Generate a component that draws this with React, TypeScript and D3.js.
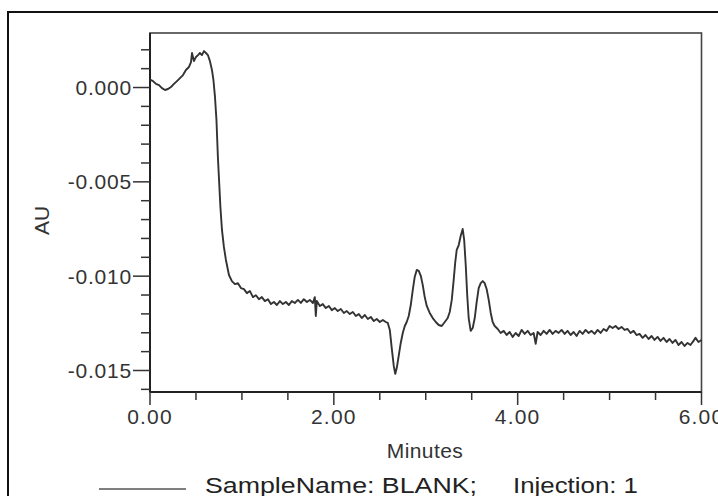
import * as d3 from "d3";

// retention time (min) and absorbance (AU)
const times = [
  0.0, 0.033, 0.065, 0.098, 0.13, 0.163, 0.196, 0.228, 0.261, 0.293, 0.326, 0.359, 0.391, 0.424,
  0.446, 0.457, 0.478, 0.5, 0.522, 0.543, 0.565, 0.587, 0.609, 0.63, 0.652, 0.674, 0.69, 0.707,
  0.723, 0.739, 0.755, 0.766, 0.783, 0.804, 0.826, 0.859, 0.891, 0.924, 0.957, 0.989, 1.022, 1.054,
  1.087, 1.12, 1.152, 1.185, 1.217, 1.25, 1.283, 1.315, 1.348, 1.38, 1.413, 1.446, 1.478, 1.511,
  1.543, 1.576, 1.609, 1.641, 1.674, 1.707, 1.739, 1.772, 1.793, 1.804, 1.815, 1.848, 1.88, 1.913,
  1.946, 1.978, 2.011, 2.043, 2.076, 2.109, 2.141, 2.174, 2.207, 2.239, 2.272, 2.304, 2.337, 2.37,
  2.402, 2.435, 2.467, 2.5, 2.533, 2.565, 2.587, 2.609, 2.63, 2.652, 2.668, 2.685, 2.707, 2.728,
  2.75, 2.772, 2.793, 2.815, 2.837, 2.859, 2.88, 2.902, 2.924, 2.946, 2.967, 2.989, 3.011, 3.043,
  3.076, 3.109, 3.141, 3.174, 3.207, 3.239, 3.261, 3.283, 3.304, 3.321, 3.337, 3.359, 3.38, 3.402,
  3.418, 3.435, 3.451, 3.467, 3.489, 3.511, 3.533, 3.554, 3.576, 3.598, 3.62, 3.641, 3.663, 3.685,
  3.707, 3.728, 3.75, 3.783, 3.815, 3.848, 3.88, 3.913, 3.946, 3.978, 4.011, 4.043, 4.076, 4.109,
  4.141, 4.174, 4.196, 4.217, 4.25, 4.283, 4.315, 4.348, 4.38, 4.413, 4.446, 4.478, 4.511, 4.543,
  4.576, 4.609, 4.641, 4.674, 4.707, 4.739, 4.772, 4.804, 4.837, 4.87, 4.902, 4.935, 4.967, 5.0,
  5.033, 5.065, 5.098, 5.13, 5.163, 5.196, 5.228, 5.261, 5.293, 5.326, 5.359, 5.391, 5.424, 5.457,
  5.489, 5.522, 5.554, 5.587, 5.62, 5.652, 5.685, 5.717, 5.75, 5.783, 5.815, 5.848, 5.88, 5.913,
  5.935, 5.967, 6.0,
];

const au = [
  0.00042, 0.00034, 0.00019, 0.00013, -0.00003, -0.00013, -0.00008, 0.00003, 0.00019, 0.00034,
  0.0005, 0.00066, 0.00093, 0.00109, 0.00135, 0.00183, 0.0014, 0.00162, 0.00172, 0.00183, 0.00172,
  0.00193, 0.00183, 0.00172, 0.0014, 0.00093, 0.0004, -0.0005, -0.00172, -0.00374, -0.00527,
  -0.00633, -0.00755, -0.00845, -0.00914, -0.00994, -0.01026, -0.01042, -0.01037, -0.01063,
  -0.01069, -0.0109, -0.01079, -0.01111, -0.01101, -0.01122, -0.01111, -0.01132, -0.01122,
  -0.01148, -0.01137, -0.01153, -0.01132, -0.01148, -0.01137, -0.01153, -0.01132, -0.01142,
  -0.01126, -0.01142, -0.01122, -0.01137, -0.01126, -0.01142, -0.01111, -0.01211, -0.01132,
  -0.01158, -0.01148, -0.01169, -0.01158, -0.0118, -0.01169, -0.01185, -0.01174, -0.01195,
  -0.01185, -0.01201, -0.0119, -0.01211, -0.01201, -0.01222, -0.01206, -0.01227, -0.01216,
  -0.01238, -0.01227, -0.01243, -0.01232, -0.01243, -0.01248, -0.01285, -0.01381, -0.01476,
  -0.01518, -0.01486, -0.01418, -0.01354, -0.01301, -0.01264, -0.01243, -0.01211, -0.01153,
  -0.01073, -0.01004, -0.00967, -0.00972, -0.00998, -0.01046, -0.01111, -0.01158, -0.01195,
  -0.01222, -0.01243, -0.01259, -0.01264, -0.01243, -0.01222, -0.0119, -0.01126, -0.0102,
  -0.00925, -0.00861, -0.00835, -0.00787, -0.0075, -0.00808, -0.00941, -0.011, -0.01222, -0.0129,
  -0.01275, -0.01222, -0.01137, -0.01063, -0.01037, -0.01026, -0.01037, -0.01069, -0.01126,
  -0.01195, -0.01243, -0.01264, -0.0128, -0.01301, -0.0129, -0.01312, -0.01296, -0.01322,
  -0.01301, -0.01317, -0.01285, -0.01306, -0.0129, -0.01312, -0.01301, -0.01359, -0.01296,
  -0.01312, -0.0129, -0.01306, -0.01285, -0.01306, -0.0129, -0.01301, -0.01285, -0.01306,
  -0.0129, -0.01312, -0.01296, -0.01317, -0.0129, -0.01306, -0.01285, -0.01301, -0.0129,
  -0.01306, -0.01285, -0.01301, -0.0128, -0.0129, -0.01264, -0.01275, -0.01264, -0.0128,
  -0.01269, -0.01285, -0.0128, -0.01301, -0.0129, -0.01312, -0.01306, -0.01327, -0.01312,
  -0.01333, -0.01317, -0.01338, -0.01322, -0.01343, -0.01327, -0.01349, -0.01333, -0.01354,
  -0.01338, -0.01365, -0.01349, -0.0137, -0.01354, -0.01365, -0.01343, -0.01327, -0.01349,
  -0.01338,
];

const yMajor = [0, -0.005, -0.01, -0.015];
const yMinor = [0.002, 0.001, -0.001, -0.002, -0.003, -0.004, -0.006, -0.007, -0.008, -0.009,
  -0.011, -0.012, -0.013, -0.014, -0.016];
const xMajor = [0, 2, 4, 6];
const xMinor = [0.5, 1, 1.5, 2.5, 3, 3.5, 4.5, 5, 5.5];

const font = "'Liberation Sans', Arial, sans-serif";

export default function App() {
  const left = 150;
  const right = 701.5;
  const top = 33;
  const bottom = 392;

  const x = d3.scaleLinear().domain([0, 6]).range([left, right]);
  const y = d3.scaleLinear().domain([0.00289, -0.01614]).range([top, bottom]);

  const pts = times.map((t, i) => [t, au[i]] as [number, number]);
  const line = d3
    .line<[number, number]>()
    .x((d) => x(d[0]))
    .y((d) => y(d[1]));

  return (
    <svg
      width={718}
      height={496}
      style={{ position: "absolute", left: 0, top: 0, background: "#fff" }}
      fontFamily={font}
    >
      <rect x={8} y={12} width={720} height={500} fill="none" stroke="#111" strokeWidth={2} />

      {/* plot frame */}
      <rect
        x={left}
        y={top}
        width={right - left}
        height={bottom - top}
        fill="none"
        stroke="#444"
        strokeWidth={1.6}
      />
      <line x1={left} x2={left} y1={top} y2={bottom} stroke="#222" strokeWidth={2} />
      <line x1={left} x2={right} y1={bottom} y2={bottom} stroke="#222" strokeWidth={2} />

      {/* y ticks */}
      {yMinor.map((v) => (
        <line key={"ym" + v} x1={141} x2={left} y1={y(v)} y2={y(v)} stroke="#333" strokeWidth={1.5} />
      ))}
      {yMajor.map((v) => (
        <g key={"yM" + v}>
          <line x1={133} x2={left} y1={y(v)} y2={y(v)} stroke="#333" strokeWidth={1.5} />
          <text
            x={132}
            y={y(v)}
            dy="0.36em"
            textAnchor="end"
            fontSize={21}
            letterSpacing={0.8}
            fill="#333"
          >
            {d3.format(".3f")(v).replace("−", "-")}
          </text>
        </g>
      ))}

      {/* x ticks */}
      {xMinor.map((v) => (
        <line key={"xm" + v} x1={x(v)} x2={x(v)} y1={bottom} y2={400} stroke="#333" strokeWidth={1.5} />
      ))}
      {xMajor.map((v) => (
        <g key={"xM" + v}>
          <line x1={x(v)} x2={x(v)} y1={bottom} y2={405} stroke="#333" strokeWidth={1.5} />
          <text x={x(v)} y={424} textAnchor="middle" fontSize={21} letterSpacing={1.2} fill="#333">
            {d3.format(".2f")(v)}
          </text>
        </g>
      ))}

      <text x={425} y={458} textAnchor="middle" fontSize={21} letterSpacing={0.4} fill="#333">
        Minutes
      </text>
      <text
        transform={`translate(49,${(top + bottom) / 2 + 8}) rotate(-90)`}
        textAnchor="middle"
        fontSize={21}
        fill="#333"
      >
        AU
      </text>

      <path d={line(pts) ?? ""} fill="none" stroke="#333" strokeWidth={1.9} strokeLinejoin="round" />

      {/* legend */}
      <line x1={99} x2={186} y1={489} y2={489} stroke="#555" strokeWidth={1.5} />
      <text x={205} y={493} fontSize={22} fill="#222" textLength={272} lengthAdjust="spacingAndGlyphs">
        SampleName: BLANK;
      </text>
      <text x={513} y={493} fontSize={22} fill="#222" textLength={125} lengthAdjust="spacingAndGlyphs">
        Injection: 1
      </text>
    </svg>
  );
}
